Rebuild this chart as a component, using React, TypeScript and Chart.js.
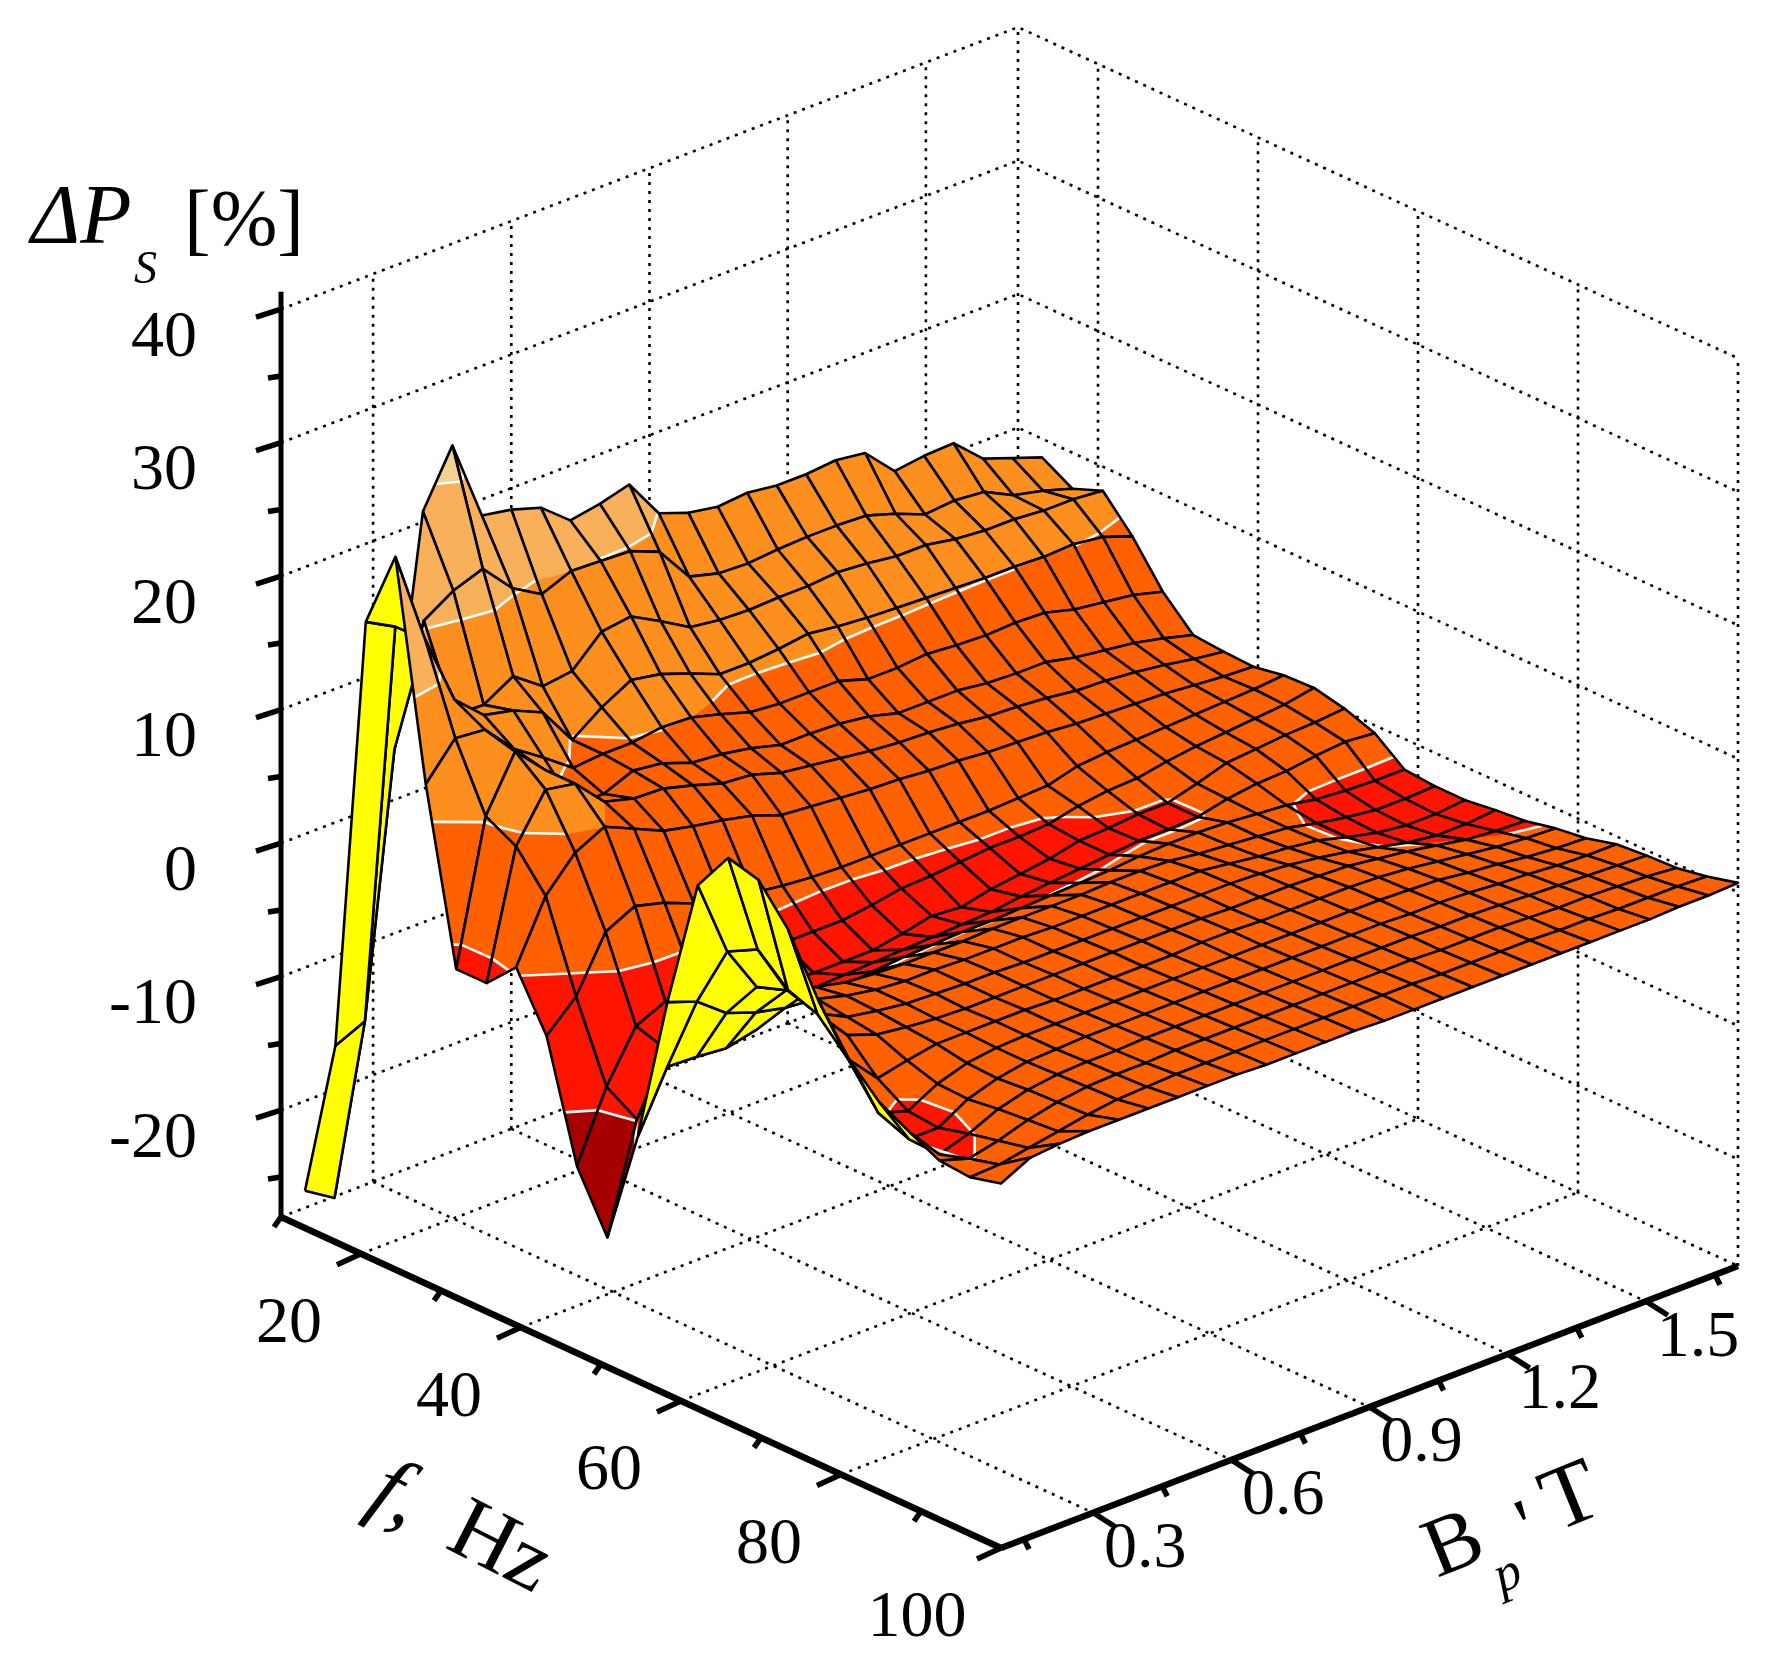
import React, { useEffect, useRef } from "react";
import { Chart, registerables } from "chart.js";

Chart.register(...registerables);

const frequencies = [13, 16.8, 20.6, 24.3, 28.1, 31.9, 35.7, 39.4, 43.2, 47, 50.8, 54.6, 58.3, 62.1, 65.9, 69.7, 73.4, 77.2, 81, 84.8, 88.6, 92.3, 96.1, 100];
const inductions = [0.1, 0.164, 0.228, 0.292, 0.356, 0.42, 0.484, 0.548, 0.612, 0.676, 0.74, 0.804, 0.868, 0.932, 0.996, 1.06, 1.124, 1.188, 1.252, 1.316, 1.38, 1.444, 1.508, 1.572, 1.636, 1.7];

// deltaPs[f index][B index]
const deltaPs = [
  [-25.2, -26.6, -12.5, 5.6, 22.3, 26.4, 20.3, 19.9, 19.2, 17.4, 17.8, 18.4, 15.4, 14.6, 14.2, 14.4, 14.1, 14.1, 14.3, 14.0, 11.8, 12.1, 12.2, 10.2, 9.4, 8.6],
  [-13.3, -12.3, 7.2, 16.0, 17.4, 18.2, 15.9, 14.6, 15.5, 15.4, 15.3, 14.4, 11.7, 11.1, 11.0, 11.2, 11.3, 11.3, 11.2, 10.5, 9.6, 9.8, 9.6, 8.5, 8.0, 7.3],
  [19.5, 18.3, 16.5, 10.0, 9.9, 11.2, 9.6, 9.9, 12.0, 12.3, 11.1, 9.8, 9.5, 9.4, 9.5, 9.5, 9.7, 9.5, 9.2, 9.2, 8.8, 8.6, 8.6, 8.4, 8.4, 8.2],
  [25.4, 18.4, 13.0, 11.0, 10.5, 9.5, 6.6, 8.2, 9.4, 9.0, 8.2, 7.3, 7.3, 7.5, 7.8, 7.5, 7.3, 7.2, 7.1, 7.0, 6.9, 6.9, 6.8, 6.9, 6.6, 5.8],
  [9.4, 12.0, 11.8, 9.5, 8.0, 6.4, 6.6, 6.6, 6.9, 6.8, 6.2, 5.5, 5.3, 5.3, 5.3, 4.6, 4.6, 4.8, 4.6, 4.5, 4.6, 4.5, 3.9, 3.6, 3.3, 2.7],
  [-3.4, 7.2, 11.2, 9.0, 5.5, 5.5, 6.4, 6.1, 5.3, 5.1, 4.7, 4.1, 4.1, 4.0, 3.7, 3.1, 3.1, 3.1, 2.8, 2.7, 2.7, 2.2, 1.9, 1.6, 1.1, 0.5],
  [-3.4, 6.0, 9.4, 9.0, 6.8, 6.2, 6.1, 5.5, 4.8, 4.6, 3.9, 3.6, 3.3, 3.0, 2.8, 2.7, 2.5, 2.2, 2.1, 1.9, 1.6, 1.5, 1.3, 1.0, 0.6, 0.3],
  [-1.2, 3.3, 5.7, 6.8, 5.8, 4.8, 4.3, 3.9, 3.4, 2.6, 2.4, 2.2, 2.0, 1.9, 1.7, 1.6, 1.4, 1.3, 1.2, 1.0, 0.9, 0.8, 0.7, 0.5, 0.3, 0.2],
  [-5.3, -3.2, 0.8, 1.9, 1.3, 0.4, -0.2, -0.5, -0.8, -1.0, -1.1, -1.1, -1.1, -1.1, -1.1, -1.1, -1.0, -0.9, -0.3, -0.1, 0.0, 0.1, 0.2, 0.3, 0.4, 0.6],
  [-14.0, -8.9, -5.2, -4.2, -3.6, -3.4, -3.3, -3.2, -3.2, -3.2, -2.9, -2.5, -2.4, -2.2, -2.0, -2.0, -1.9, -1.4, -1.1, -1.0, -0.6, -0.3, -0.1, 0.1, 0.3, 0.7],
  [-18.3, -10.3, -5.9, -4.6, -4.2, -4.2, -4.3, -4.4, -4.4, -4.4, -4.0, -3.5, -3.7, -3.2, -2.9, -2.6, -2.1, -2.0, -1.8, -1.8, -1.2, -0.5, -0.3, -0.1, 0.0, 0.2],
  [-9.7, -5.3, -5.4, -5.6, -5.1, -3.7, -3.6, -3.5, -3.4, -3.3, -3.2, -3.1, -3.0, -2.7, -2.5, -2.3, -2.1, -1.9, -1.9, -1.8, -1.3, -1.0, -0.9, -0.6, -0.4, -0.6],
  [1.4, 0.6, -1.1, -1.9, -2.4, -2.6, -2.4, -2.2, -2.0, -1.9, -1.8, -1.8, -1.7, -1.6, -1.5, -1.4, -1.2, -1.1, -1.1, -1.2, -1.4, -1.6, -2.0, -2.2, -2.3, -2.3],
  [11.2, 5.4, 1.9, 0.8, 0.2, -0.3, -0.5, -0.6, -0.6, -0.6, -0.5, -0.5, -0.5, -0.5, -0.4, -0.4, -0.5, -0.8, -1.0, -1.2, -1.4, -1.9, -2.3, -2.6, -2.6, -2.5],
  [14.3, 6.6, 2.7, 1.2, 0.6, 0.2, 0.0, 0.0, -0.1, -0.1, -0.1, -0.2, -0.2, -0.2, -0.2, -0.2, -0.2, -0.5, -0.8, -1.0, -1.3, -1.9, -2.4, -2.7, -2.7, -2.5],
  [13.7, 4.6, 2.0, 0.9, 0.5, 0.2, 0.1, 0.0, 0.0, -0.1, -0.1, -0.1, -0.1, -0.1, -0.1, -0.1, -0.1, -0.2, -0.4, -0.7, -1.1, -1.6, -2.1, -2.4, -2.4, -2.2],
  [11.0, 3.8, 1.4, 0.6, 0.3, 0.1, 0.0, 0.0, 0.0, 0.0, 0.0, 0.0, 0.0, 0.0, 0.0, -0.1, -0.1, -0.1, -0.2, -0.3, -0.6, -0.9, -1.3, -1.7, -1.9, -2.0],
  [6.7, 1.5, -0.8, -0.3, 0.1, 0.1, 0.1, 0.1, 0.0, 0.0, 0.0, 0.0, 0.0, 0.1, 0.1, 0.0, 0.0, 0.0, 0.0, -0.1, -0.3, -0.6, -0.9, -1.2, -1.4, -1.5],
  [3.4, -1.5, -2.2, -1.0, -0.3, 0.0, 0.1, 0.1, 0.1, 0.1, 0.1, 0.1, 0.1, 0.1, 0.1, 0.1, 0.1, 0.1, 0.1, 0.0, -0.1, -0.4, -0.6, -0.9, -1.1, -1.2],
  [1.2, -2.4, -2.4, -1.1, -0.4, 0.0, 0.1, 0.2, 0.2, 0.2, 0.2, 0.2, 0.2, 0.2, 0.2, 0.2, 0.2, 0.2, 0.1, 0.1, 0.0, -0.2, -0.3, -0.5, -0.6, -0.6],
  [0.0, -2.5, -1.8, -0.8, -0.2, 0.1, 0.2, 0.2, 0.3, 0.3, 0.3, 0.3, 0.3, 0.3, 0.3, 0.3, 0.3, 0.3, 0.2, 0.2, 0.1, 0.0, -0.1, -0.2, -0.3, -0.4],
  [-1.1, -1.8, -1.3, -0.6, -0.1, 0.2, 0.3, 0.3, 0.4, 0.4, 0.4, 0.4, 0.4, 0.4, 0.4, 0.4, 0.4, 0.3, 0.3, 0.3, 0.2, 0.1, 0.1, 0.0, -0.1, -0.3],
  [-1.3, -1.2, -0.8, -0.4, 0.0, 0.3, 0.4, 0.5, 0.5, 0.5, 0.5, 0.5, 0.5, 0.5, 0.5, 0.5, 0.4, 0.4, 0.4, 0.4, 0.3, 0.3, 0.2, 0.2, 0.2, 0.1],
  [-0.7, 0.4, 0.6, 0.7, 0.7, 0.7, 0.7, 0.7, 0.7, 0.6, 0.6, 0.6, 0.6, 0.5, 0.5, 0.5, 0.5, 0.5, 0.5, 0.5, 0.5, 0.5, 0.5, 0.6, 0.6, 0.7],
];

const contourLevels = [-10.4, -1.7, 6.8, 15.5, 24.0];
const bandColors = ["#a60000", "#ff1400", "#ff6000", "#fc8f1e", "#f8b05a", "#f6d08f"];
const undersideColor = "#ffff00";

const zMajorTicks = [-20, -10, 0, 10, 20, 30, 40];
const zMinorTicks = [-25, -15, -5, 5, 15, 25, 35];
const fMajorTicks = [20, 40, 60, 80, 100];
const fMinorTicks = [10, 30, 50, 70, 90];
const bMajorTicks = [0.3, 0.6, 0.9, 1.2, 1.5];
const bMinorTicks = [0.15, 0.45, 0.75, 1.05, 1.35, 1.65];

const F_MIN = 10, F_MAX = 100, B_MIN = 0.1, B_MAX = 1.7, Z_MIN = -28, Z_WALL = 40, Z_AXIS_TOP = 41.3;

// oblique view of the box
const view = { x0: 281, y0: 1217, fx: 720, fy: 331, bx: 737, by: -282, zs: 13.35 };
const vx = (f: number, b: number) => view.x0 + ((f - F_MIN) / (F_MAX - F_MIN)) * view.fx + ((b - B_MIN) / (B_MAX - B_MIN)) * view.bx;
const vy = (f: number, b: number, z: number) =>
  view.y0 + ((f - F_MIN) / (F_MAX - F_MIN)) * view.fy + ((b - B_MIN) / (B_MAX - B_MIN)) * view.by - (z - Z_MIN) * view.zs;
const P = (f: number, b: number, z: number) => ({ x: vx(f, b), y: vy(f, b, z) });

type V = { x: number; y: number; z: number };

function clipAbove(poly: V[], level: number, keepAbove: boolean): V[] {
  const out: V[] = [];
  for (let k = 0; k < poly.length; k++) {
    const a = poly[k], c = poly[(k + 1) % poly.length];
    const ain = keepAbove ? a.z >= level : a.z <= level;
    const cin = keepAbove ? c.z >= level : c.z <= level;
    if (ain) out.push(a);
    if (ain !== cin) {
      const t = (level - a.z) / (c.z - a.z);
      out.push({ x: a.x + (c.x - a.x) * t, y: a.y + (c.y - a.y) * t, z: level });
    }
  }
  return out;
}

function line(points: { x: number; y: number }[], color: string, width: number, extra: any = {}) {
  return {
    data: points.map((p) => ({ x: p.x, y: p.y })),
    showLine: true,
    pointRadius: 0,
    borderColor: color,
    borderWidth: width,
    tension: 0,
    fill: false,
    clip: false,
    borderJoinStyle: "round",
    ...extra,
  };
}

function buildDatasets() {
  const sets: any[] = [];
  const dots = { borderDash: [3, 6] };
  const dotted = (pts: { x: number; y: number }[]) => sets.push(line(pts, "#000", 2.6, dots));

  // walls
  for (const z of [...zMajorTicks, Z_MIN]) {
    dotted([P(F_MIN, B_MIN, z), P(F_MIN, B_MAX, z), P(F_MAX, B_MAX, z)]);
  }
  for (const b of [...bMajorTicks, B_MAX]) dotted([P(F_MIN, b, Z_MIN), P(F_MIN, b, Z_WALL)]);
  for (const f of [...fMajorTicks]) dotted([P(f, B_MAX, Z_MIN), P(f, B_MAX, Z_WALL)]);
  // floor
  for (const b of bMajorTicks) dotted([P(F_MIN, b, Z_MIN), P(F_MAX, b, Z_MIN)]);
  for (const f of fMajorTicks.slice(0, 4)) dotted([P(f, B_MIN, Z_MIN), P(f, B_MAX, Z_MIN)]);

  const MESH = 2.6;
  const WHITE = 2.6;
  // surface, far cells first
  for (let i = 0; i < frequencies.length - 1; i++) {
    for (let j = inductions.length - 2; j >= 0; j--) {
      const mk = (a: number, c: number): V => ({ ...P(frequencies[a], inductions[c], deltaPs[a][c]), z: deltaPs[a][c] });
      const quad = [mk(i, j), mk(i + 1, j), mk(i + 1, j + 1), mk(i, j + 1)];
      const closed = [...quad, quad[0]];
      let area = 0;
      for (let k = 0; k < 4; k++) area += closed[k].x * closed[k + 1].y - closed[k + 1].x * closed[k].y;
      if (area > 0) {
        sets.push(line(closed, "#000", MESH, { fill: "shape", backgroundColor: undersideColor }));
        continue;
      }
      const lo = [-Infinity, ...contourLevels];
      const hi = [...contourLevels, Infinity];
      for (let b = 0; b < bandColors.length; b++) {
        let poly = quad;
        if (lo[b] !== -Infinity) poly = clipAbove(poly, lo[b], true);
        if (poly.length >= 3 && hi[b] !== Infinity) poly = clipAbove(poly, hi[b], false);
        if (poly.length >= 3) {
          sets.push(line([...poly, poly[0]], bandColors[b], 0.8, { fill: "shape", backgroundColor: bandColors[b] }));
        }
      }
      for (const level of contourLevels) {
        const cross: { x: number; y: number }[] = [];
        for (let k = 0; k < 4; k++) {
          const a = closed[k], c = closed[k + 1];
          if ((a.z - level) * (c.z - level) < 0) {
            const t = (level - a.z) / (c.z - a.z);
            cross.push({ x: a.x + (c.x - a.x) * t, y: a.y + (c.y - a.y) * t });
          }
        }
        if (cross.length >= 2) sets.push(line(cross.slice(0, 2), "#fff", WHITE));
        if (cross.length === 4) sets.push(line(cross.slice(2, 4), "#fff", WHITE));
      }
      sets.push(line(closed, "#000", MESH));
    }
  }

  // axes and tick marks
  sets.push(line([P(F_MIN, B_MIN, Z_MIN), P(F_MIN, B_MIN, Z_AXIS_TOP)], "#000", 5));
  sets.push(line([P(F_MIN, B_MIN, Z_MIN), P(F_MAX, B_MIN, Z_MIN)], "#000", 6.5));
  sets.push(line([P(F_MAX, B_MIN, Z_MIN), P(F_MAX, B_MAX, Z_MIN)], "#000", 6.5));
  const tick = (p: { x: number; y: number }, dx: number, dy: number, w: number) =>
    sets.push(line([p, { x: p.x + dx, y: p.y + dy }], "#000", w));
  for (const z of zMajorTicks) tick(P(F_MIN, B_MIN, z), -25, 8, 5.5);
  for (const z of zMinorTicks) tick(P(F_MIN, B_MIN, z), -13, 2, 5.5);
  for (const f of fMajorTicks) tick(P(f, B_MIN, Z_MIN), -24, 11, 5.5);
  for (const f of fMinorTicks) tick(P(f, B_MIN, Z_MIN), -7, 10, 5.5);
  for (const b of bMajorTicks) tick(P(F_MAX, b, Z_MIN), 22, 14, 5.5);
  for (const b of bMinorTicks) tick(P(F_MAX, b, Z_MIN), 5, 10, 5.5);

  return sets.reverse(); // Chart.js paints the last dataset first
}

const SERIF = '"Liberation Serif", "DejaVu Serif", serif';

const textPlugin = {
  id: "boxLabels",
  afterDatasetsDraw(chart: any) {
    const { ctx, scales } = chart;
    const px = (x: number) => scales.x.getPixelForValue(x);
    const py = (y: number) => scales.y.getPixelForValue(y);
    ctx.save();
    ctx.fillStyle = "#000";
    ctx.textBaseline = "middle";
    ctx.font = `66px ${SERIF}`;
    ctx.textAlign = "right";
    for (const z of zMajorTicks) ctx.fillText(String(z), px(197), py(vy(F_MIN, B_MIN, z) + 29));
    ctx.textAlign = "center";
    for (const f of fMajorTicks) {
      const off = f === 100 ? -84 : -72;
      ctx.fillText(String(f), px(vx(f, B_MIN) + off), py(vy(f, B_MIN, Z_MIN) + 71));
    }
    for (const b of bMajorTicks) {
      ctx.fillText(b.toFixed(1), px(vx(F_MAX, b) + 52), py(vy(F_MAX, b, Z_MIN) + 37));
    }

    ctx.textBaseline = "alphabetic";
    ctx.textAlign = "left";
    // z title
    ctx.font = `italic 84px ${SERIF}`;
    ctx.fillText("\u0394P", px(31), py(243));
    ctx.font = `italic 46px ${SERIF}`;
    ctx.fillText("S", px(134), py(283));
    ctx.font = `80px ${SERIF}`;
    ctx.fillText("[%]", px(184), py(245));

    // f title
    ctx.save();
    ctx.translate(px(365), py(1507));
    ctx.rotate((27 * Math.PI) / 180);
    ctx.font = `italic 88px ${SERIF}`;
    ctx.fillText("f,", 0, 0);
    ctx.font = `88px ${SERIF}`;
    ctx.fillText("Hz", 88, 0);
    ctx.restore();

    // B title
    ctx.save();
    ctx.translate(px(1437), py(1578));
    ctx.rotate((-22 * Math.PI) / 180);
    ctx.font = `84px ${SERIF}`;
    ctx.fillText("B", 0, 0);
    ctx.font = `italic 52px ${SERIF}`;
    ctx.fillText("p", 54, 38);
    ctx.font = `80px ${SERIF}`;
    ctx.fillText("'", 96, 12);
    ctx.font = `90px ${SERIF}`;
    ctx.fillText("T", 127, 2);
    ctx.restore();
    ctx.restore();
  },
};

export default function App() {
  const ref = useRef<HTMLCanvasElement | null>(null);
  useEffect(() => {
    document.body.style.margin = "0";
    const chart = new Chart(ref.current as HTMLCanvasElement, {
      type: "scatter",
      data: { datasets: buildDatasets() },
      options: {
        animation: false,
        responsive: false,
        devicePixelRatio: 1,
        events: [],
        layout: { padding: 0 },
        plugins: { legend: { display: false }, tooltip: { enabled: false }, title: { display: false } },
        scales: {
          x: { type: "linear", display: false, min: 0, max: 1773 },
          y: { type: "linear", display: false, min: 0, max: 1671, reverse: true },
        },
      },
      plugins: [textPlugin],
    } as any);
    return () => chart.destroy();
  }, []);
  return (
    <div style={{ position: "absolute", left: 0, top: 0, width: 1773, height: 1671, background: "#fff" }}>
      <canvas ref={ref} width={1773} height={1671} style={{ display: "block" }} />
    </div>
  );
}
